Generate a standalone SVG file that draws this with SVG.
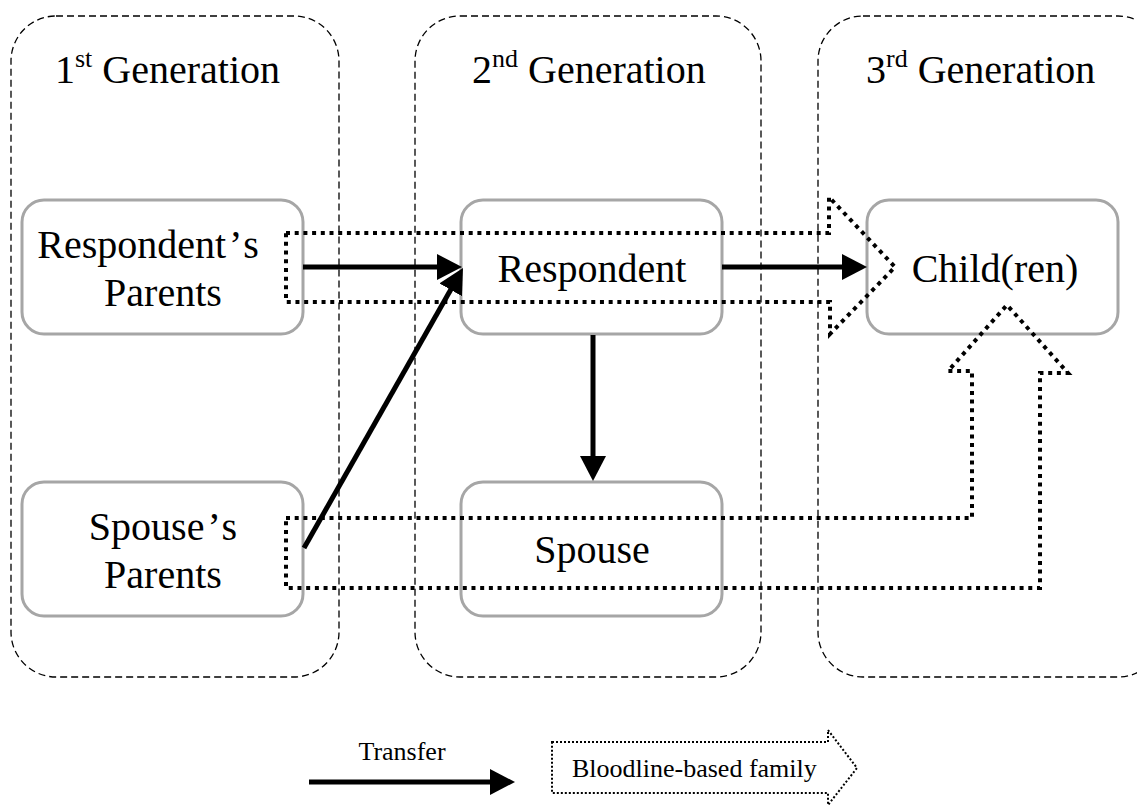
<svg xmlns="http://www.w3.org/2000/svg" width="1137" height="805" viewBox="0 0 1137 805">
<style>
.gen{fill:none;stroke:#000;stroke-width:1.3;stroke-dasharray:7 4}
.node{fill:#fff;stroke:#a6a6a6;stroke-width:3}
text{font-family:'Liberation Serif','Times New Roman',serif;fill:#000}
.title{font-size:40px}
.sup{font-size:26px}
.nt{font-size:40px;text-anchor:middle}
.lg{font-size:26px}
.solid{fill:none;stroke:#000;stroke-width:5}
.dot{fill:none;stroke:#000;stroke-width:4;stroke-dasharray:4 4.7}
.dotsm{fill:none;stroke:#000;stroke-width:2;stroke-dasharray:2 2}
</style>
<defs>
<marker id="ah" viewBox="0 0 25 26" refX="7" refY="13" markerWidth="25" markerHeight="26" markerUnits="userSpaceOnUse" orient="auto">
<path d="M0,0 L25,13 L0,26 z" fill="#000"/>
</marker>
</defs>
<rect width="1137" height="805" fill="#fff"/>
<g id="gen1">
<rect class="gen" x="11" y="16" width="328" height="661" rx="45"/>
<text class="title" x="55" y="83">1<tspan class="sup" dy="-16">st</tspan><tspan dy="16"> Generation</tspan></text>
</g>
<g id="gen2">
<rect class="gen" x="415" y="16" width="346" height="661" rx="45"/>
<text class="title" x="472" y="83">2<tspan class="sup" dy="-16">nd</tspan><tspan dy="16"> Generation</tspan></text>
</g>
<g id="gen3">
<rect class="gen" x="818" y="16" width="345" height="661" rx="45"/>
<text class="title" x="866" y="83">3<tspan class="sup" dy="-16">rd</tspan><tspan dy="16"> Generation</tspan></text>
</g>
<g id="resp-parents">
<rect class="node" x="22" y="200" width="281" height="134" rx="22"/>
<text class="nt" x="148" y="258">Respondent<tspan dx="3">’</tspan><tspan dx="3">s</tspan></text>
<text class="nt" x="163" y="306">Parents</text>
</g>
<g id="spouse-parents">
<rect class="node" x="22" y="482" width="281" height="134" rx="22"/>
<text class="nt" x="163" y="540">Spouse<tspan dx="3">’</tspan><tspan dx="3">s</tspan></text>
<text class="nt" x="163" y="588">Parents</text>
</g>
<g id="respondent">
<rect class="node" x="461" y="200" width="261" height="134" rx="22"/>
<text class="nt" x="592" y="282">Respondent</text>
</g>
<g id="spouse">
<rect class="node" x="461" y="482" width="261" height="134" rx="22"/>
<text class="nt" x="592" y="563">Spouse</text>
</g>
<g id="children">
<rect class="node" x="867" y="200" width="251" height="134" rx="22"/>
<text class="nt" x="995" y="282">Child(ren)</text>
</g>
<g id="connectors">
<path class="dot" d="M286,233 L829,233 L829,197 L895,267 L830,334 L830,302 L286,302 Z"/>
<path class="dot" d="M286,518 L972,518 L972,371 L948,371 L1007,305 L1068,373 L1040,373 L1040,588 L286,588 Z"/>
<line class="solid" x1="303" y1="267" x2="444" y2="267" marker-end="url(#ah)"/>
<line class="solid" x1="304" y1="548" x2="454.1" y2="283.7" marker-end="url(#ah)"/>
<line class="solid" x1="722" y1="267" x2="849" y2="267" marker-end="url(#ah)"/>
<line class="solid" x1="593" y1="335" x2="593" y2="463" marker-end="url(#ah)"/>
</g>
<g id="legend">
<line class="solid" x1="309" y1="782" x2="497" y2="782" marker-end="url(#ah)"/>
<text class="lg" x="402" y="760" text-anchor="middle">Transfer</text>
<path class="dotsm" d="M552,742 L828,742 L828,730 L857,768 L828,805 L828,793 L552,793 Z"/>
<text class="lg" x="572" y="777">Bloodline-based family</text>
</g>
</svg>
